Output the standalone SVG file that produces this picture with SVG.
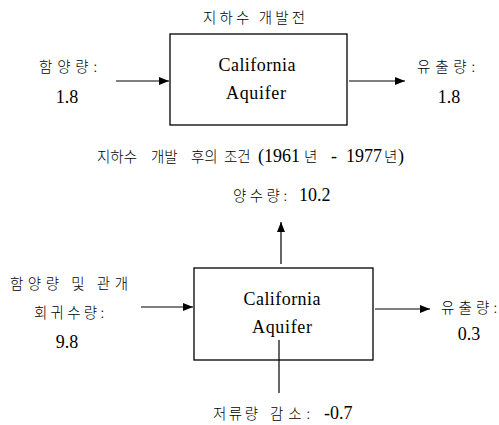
<svg xmlns="http://www.w3.org/2000/svg" width="499" height="425" viewBox="0 0 499 425">
<defs>
<marker id="ah" markerWidth="10" markerHeight="8" refX="10" refY="4" orient="auto" markerUnits="userSpaceOnUse">
<path d="M0,0 L10,4 L0,8 Z" fill="#000"/>
</marker>
<style>
.box{fill:#fff;stroke:#000;stroke-width:1.3}
.ln{stroke:#000;stroke-width:1.2;fill:none}
.lat{font-family:'Liberation Serif','Times New Roman',serif;font-size:18px;fill:#000;text-anchor:middle}
.num{font-family:'Liberation Serif','Times New Roman',serif;font-size:18px;fill:#000}
.kr{font-family:'Noto Sans CJK KR',sans-serif;font-size:14.5px;font-weight:300;fill:#000}
.mid{text-anchor:middle}
</style>
</defs>
<rect width="499" height="425" fill="#fff"/>
<text class="kr mid" x="254" y="23" textLength="102" lengthAdjust="spacing">지하수 개발전</text>
<g id="aquifer1">
<rect class="box" x="170" y="34" width="177" height="91"/>
<text class="lat" x="257" y="71" textLength="77" lengthAdjust="spacing">California</text>
<text class="lat" x="256" y="99" textLength="60" lengthAdjust="spacing">Aquifer</text>
</g>
<g id="in1">
<text class="kr mid" x="68" y="72" textLength="58" lengthAdjust="spacing">함양량:</text>
<text class="lat" x="67" y="103">1.8</text>
</g>
<g id="out1">
<text class="kr mid" x="446" y="72" textLength="58" lengthAdjust="spacing">유출량:</text>
<text class="lat" x="449" y="103">1.8</text>
</g>
<g id="title2">
<text class="kr" y="162"><tspan x="97">지하수</tspan><tspan x="151">개발</tspan><tspan x="191">후의</tspan><tspan x="224">조건</tspan></text>
<text class="num" x="258" y="162">(1961</text>
<text class="kr" x="304" y="162">년</text>
<text class="num" x="331" y="162">-</text>
<text class="num" x="346" y="162">1977</text>
<text class="kr" x="384" y="162">년</text>
<text class="num" x="398" y="162">)</text>
</g>
<g id="aquifer2">
<rect class="box" x="194" y="268" width="179" height="92"/>
<text class="lat" x="282" y="305" textLength="77" lengthAdjust="spacing">California</text>
<text class="lat" x="282" y="333" textLength="60" lengthAdjust="spacing">Aquifer</text>
</g>
<g id="pump">
<text class="kr" x="233" y="201" textLength="54" lengthAdjust="spacing">양수량:</text>
<text class="num" x="299" y="201">10.2</text>
</g>
<g id="in2">
<text class="kr mid" x="69" y="289" textLength="118" lengthAdjust="spacing">함양량 및 관개</text>
<text class="kr mid" x="69" y="318" textLength="70" lengthAdjust="spacing">회귀수량:</text>
<text class="lat" x="67" y="348">9.8</text>
</g>
<g id="out2">
<text class="kr mid" x="469" y="313" textLength="56" lengthAdjust="spacing">유출량:</text>
<text class="lat" x="469" y="340">0.3</text>
</g>
<g id="storage">
<text class="kr" x="213" y="419" textLength="45" lengthAdjust="spacing">저류량</text>
<text class="kr" x="270" y="419" textLength="40" lengthAdjust="spacing">감소:</text>
<text class="num" x="324" y="419">-0.7</text>
</g>
<g id="connectors">
<line class="ln" x1="116" y1="81" x2="169" y2="81" marker-end="url(#ah)"/>
<line class="ln" x1="349" y1="81" x2="405" y2="81" marker-end="url(#ah)"/>
<line class="ln" x1="281" y1="264" x2="281" y2="222" marker-end="url(#ah)"/>
<line class="ln" x1="141" y1="307" x2="193" y2="307" marker-end="url(#ah)"/>
<line class="ln" x1="375" y1="309" x2="430" y2="309" marker-end="url(#ah)"/>
<line class="ln" x1="279" y1="340" x2="279" y2="393"/>
</g>
</svg>
